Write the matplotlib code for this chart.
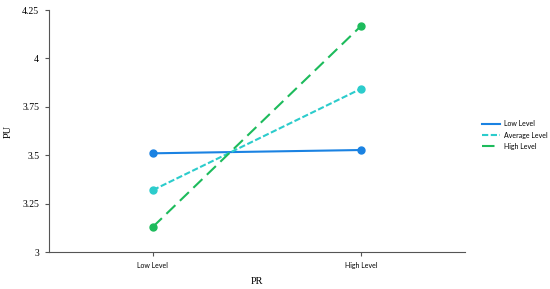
import matplotlib.pyplot as plt
from matplotlib.lines import Line2D

pr_levels = ["Low Level", "High Level"]
series_names = ["Low Level", "Average Level", "High Level"]
low_vals = [3.51, 3.527]
avg_vals = [3.32, 3.843]
high_vals = [3.13, 4.167]
y_ticks = [3, 3.25, 3.5, 3.75, 4, 4.25]
y_ticklabels = ["3", "3.25", "3.5", "3.75", "4", "4.25"]

colors = ["#1a82e2", "#2ccccc", "#1dbb5c"]
styles = ["-", (0, (3, 1.2)), (0, (6, 3))]

fig = plt.figure(figsize=(5.5, 2.89), dpi=100)
ax = fig.add_axes([0.089, 0.128, 0.756, 0.837])

x = [0, 1]
for vals, c, ls in zip([low_vals, avg_vals, high_vals], colors, styles):
    ax.plot(x, vals, color=c, linestyle=ls, linewidth=1.5, marker="o", markersize=5)

ax.set_xlim(-0.5, 1.5)
ax.set_ylim(3, 4.25)
ax.set_xticks(x)
ax.set_xticklabels(pr_levels, fontsize=5, family="Lato")
ax.set_yticks(y_ticks)
ax.set_yticklabels(y_ticklabels, fontsize=7, family="Liberation Serif")
ax.set_xlabel("PR", fontsize=7.5, family="Liberation Serif", labelpad=6)
ax.set_ylabel("PU", fontsize=7.5, family="Liberation Serif", labelpad=7)
ax.spines["top"].set_visible(False)
ax.spines["right"].set_visible(False)
for s in ["left", "bottom"]:
    ax.spines[s].set_color("#555555")
    ax.spines[s].set_linewidth(0.8)
ax.tick_params(length=3, width=0.8, color="#555555", pad=4)

handles = [Line2D([], [], color=c, linestyle=ls, linewidth=1.5) for c, ls in zip(colors, styles)]
fig.legend(handles, series_names, loc="upper left", bbox_to_anchor=(0.865, 0.605),
           frameon=False, prop={"family": "Lato", "size": 5}, handlelength=2.6,
           handletextpad=0.6, labelspacing=0.6)

fig.savefig("out.png", dpi=100)
